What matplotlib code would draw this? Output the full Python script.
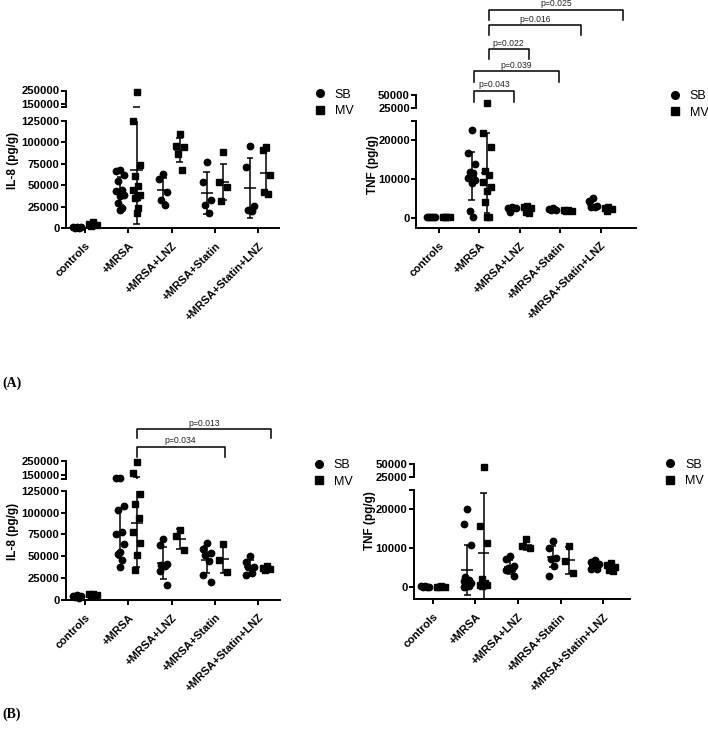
#IL-8 and TNF in SB / MV, two experiments (A) and (B), GraphPad style with broken y axis

import numpy as np
import matplotlib
matplotlib.use('Agg')
import matplotlib.pyplot as plt
from matplotlib.lines import Line2D
from matplotlib.transforms import blended_transform_factory

#(1)Data
groups = ['controls', '+MRSA', '+MRSA+LNZ', '+MRSA+Statin', '+MRSA+Statin+LNZ']
series = ['SB', 'MV']

# (A) IL-8 (pg/g)
il8_a_sb = [
    [1000, 500, 1500, 800, 300],
    [67000, 66000, 62000, 54700, 44200, 43100, 38400, 37300, 28700, 22900, 21000],
    [63000, 57000, 42000, 33000, 27000],
    [76600, 53400, 32900, 26300, 17400],
    [96000, 71600, 25200, 21300, 19400],
]
il8_a_mv = [
    [7500, 5000, 3500, 2500],
    [240000, 125000, 73000, 60000, 49000, 44000, 38500, 36500, 34500, 23000, 18000],
    [109500, 96000, 94000, 86000, 67500],
    [88000, 54000, 48000, 31000],
    [94000, 91000, 62000, 42000, 40000],
]
il8_a_sb_mean = [800, 43300, 44200, 40600, 46400]
il8_a_sb_sd = [500, 16500, 14300, 24200, 35200]
il8_a_mv_mean = [4600, 67500, 90800, 53400, 64600]
il8_a_mv_sd = [2100, 62500, 13600, 20900, 25500]

# (A) TNF (pg/g)
tnf_a_sb = [
    [200, 100, 300, 150, 250],
    [22700, 16800, 13900, 11900, 11500, 10200, 9700, 8900, 1800, 300],
    [2900, 2600, 2400, 1500],
    [2600, 2300, 2100, 1900],
    [5200, 4400, 3000, 2800, 2700],
]
tnf_a_mv = [
    [100, 200, 150, 250],
    [35000, 21800, 18200, 12100, 11000, 9100, 8000, 6900, 4000, 150, 150],
    [3100, 2800, 2500, 1500, 1300],
    [2100, 1900, 1800, 1700],
    [2900, 2600, 2300, 1800],
]
tnf_a_sb_mean = [200, 10800, 2350, 2200, 3300]
tnf_a_sb_sd = [100, 6200, 600, 300, 1100]
tnf_a_mv_mean = [150, 11500, 2200, 1900, 2400]
tnf_a_mv_sd = [60, 10300, 800, 200, 500]
tnf_a_pvals = ['p=0.043', 'p=0.039', 'p=0.022', 'p=0.016', 'p=0.025']

# (B) IL-8 (pg/g)
il8_b_sb = [
    [5000, 4000, 3000, 2000, 4500],
    [135000, 135000, 108000, 103000, 78000, 76000, 64000, 55000, 52000, 46000, 38000],
    [70000, 62500, 41000, 40000, 38500, 33000, 16500],
    [65000, 58000, 53000, 51000, 44000, 28000, 20000],
    [50000, 43500, 38000, 37000, 31000, 28000],
]
il8_b_mv = [
    [6000, 5500, 5000, 6200],
    [239000, 164000, 121500, 110000, 93500, 77300, 64600, 51000, 33800],
    [80000, 73000, 57000],
    [64000, 45000, 32000],
    [38500, 36500, 35000, 34000],
]
il8_b_sb_mean = [3700, 77000, 42000, 46000, 37500]
il8_b_sb_sd = [1200, 28800, 18500, 16000, 8000]
il8_b_mv_mean = [5700, 88000, 70000, 47000, 36000]
il8_b_mv_sd = [500, 50000, 11700, 16000, 2000]
il8_b_pvals = ['p=0.034', 'p=0.013']

# (B) TNF (pg/g)
tnf_b_sb = [
    [200, 100, 300, 150, 250],
    [20000, 16200, 10800, 2600, 2000, 1500, 1100, 800, 600, 400, 300, 200],
    [8000, 7200, 5500, 5000, 4800, 4500, 3000],
    [12000, 10200, 7600, 7300, 5600, 3000],
    [6900, 6500, 6000, 5600, 4800, 4600],
]
tnf_b_mv = [
    [100, 200, 150, 250],
    [45000, 15800, 11500, 2200, 1000, 700, 600, 500, 400],
    [12500, 10500, 10200],
    [10500, 6800, 3600],
    [6200, 5800, 5300, 4500, 4200],
]
tnf_b_sb_mean = [200, 4500, 5200, 7800, 5600]
tnf_b_sb_sd = [100, 6500, 1700, 2700, 900]
tnf_b_mv_mean = [150, 8800, 11000, 6900, 5200]
tnf_b_mv_sd = [60, 15500, 1300, 3500, 800]

#(2)Figure setup (work in pixels of the 708x732 picture)
plt.rcParams['font.family'] = ['Liberation Sans', 'DejaVu Sans']
plt.rcParams['font.weight'] = 'bold'
W, H = 708, 732
fig = plt.figure(figsize=(W / 100, H / 100), dpi=100)

def rect(l, t, r, b):                                   #pixel box -> figure fraction
    return [l / W, 1 - b / H, (r - l) / W, (b - t) / H]

LW = 1.4          # spine width
EW = 1.1          # error bar / mean line width
OFF = 0.19        # SB / MV offset from the group tick
MS = 4.6
jitter = np.array([0, -1, 1, -0.5, 0.5, -1, 1, 0, -0.5, 0.5, 0, -1]) * 0.09

def draw_errbar(ax_lo, ax_up, x, mean, sd, lo_lim, up_lim):
    top, bot = mean + sd, mean - sd
    kw = dict(color='black', lw=EW, clip_on=False, solid_capstyle='butt')
    ax_lo.plot([x, x], [max(bot, lo_lim[0]), min(top, lo_lim[1])], **kw)
    ax_lo.plot([x - 0.14, x + 0.14], [mean, mean], **kw)   #mean line
    if bot >= lo_lim[0]:
        ax_lo.plot([x - 0.08, x + 0.08], [bot, bot], **kw)
    if top <= lo_lim[1]:
        ax_lo.plot([x - 0.08, x + 0.08], [top, top], **kw)
    elif top > up_lim[0]:
        ax_up.plot([x, x], [up_lim[0], top], **kw)
        ax_up.plot([x - 0.08, x + 0.08], [top, top], **kw)

def draw_panel(left, right, lo_px, up_px, lo_lim, up_lim, xlim,
               lo_ticks, lo_labels, up_ticks, up_labels,
               sb, mv, sb_mean, sb_sd, mv_mean, mv_sd):
    ax = fig.add_axes(rect(left, lo_px[0], right, lo_px[1]))
    ax2 = fig.add_axes(rect(left, up_px[0], right, up_px[1]))
    ax.set_xlim(xlim)
    ax2.set_xlim(xlim)
    ax.set_ylim(lo_lim)
    ax2.set_ylim(up_lim)
    for a in (ax, ax2):
        a.patch.set_alpha(0)
        a.spines['top'].set_visible(False)
        a.spines['right'].set_visible(False)
        a.spines['left'].set_linewidth(LW)
        a.tick_params(axis='y', length=3.6, width=LW, pad=0.8, labelsize=8.1)
    ax.spines['bottom'].set_linewidth(LW)
    ax2.spines['bottom'].set_visible(False)
    ax2.set_xticks([])
    ax.set_xticks(range(len(groups)))
    ax.set_xticklabels(groups, rotation=45, ha='right', va='top',
                       rotation_mode='anchor', fontsize=8)
    ax.tick_params(axis='x', length=3.6, width=LW, pad=5.5)
    ax.set_yticks(lo_ticks)
    ax.set_yticklabels(lo_labels)
    ax2.set_yticks(up_ticks)
    ax2.set_yticklabels(up_labels)

    for k, (data, means, sds, mk) in enumerate([(sb, sb_mean, sb_sd, 'o'),
                                                (mv, mv_mean, mv_sd, 's')]):
        for g in range(len(groups)):
            xc = g - OFF if k == 0 else g + OFF
            vals = np.sort(np.array(data[g], dtype=float))[::-1]
            xs = xc + jitter[:len(vals)]
            low = vals <= lo_lim[1]
            ax.plot(xs[low], vals[low], mk, color='black', ms=MS, clip_on=False)
            ax2.plot(xs[~low], vals[~low], mk, color='black', ms=MS, clip_on=False)
            draw_errbar(ax, ax2, xc, means[g], sds[g], lo_lim, up_lim)
    return ax, ax2

def legend_at(x, y):
    h = [Line2D([], [], ls='', marker='o', color='black', ms=5.5),
         Line2D([], [], ls='', marker='s', color='black', ms=5.2)]
    fig.legend(h, series, loc='center left', bbox_to_anchor=(x / W, 1 - y / H),
               frameon=False, handlelength=1.0, handletextpad=0.7, labelspacing=0.35,
               borderpad=0, borderaxespad=0, handleheight=0.7,
               prop={'family': 'Liberation Sans', 'weight': 'normal', 'size': 9})

def bracket(ax, x1, x2, y, drop, label):
    tr = blended_transform_factory(ax.transData, fig.transFigure)
    ax.plot([x1, x1, x2, x2], [1 - (y + drop) / H, 1 - y / H, 1 - y / H, 1 - (y + drop) / H],
            color='black', lw=1.1, transform=tr, clip_on=False)
    ax.text((x1 + x2) / 2, 1 - (y - 3.5) / H, label, transform=tr, ha='center',
            va='baseline', fontsize=6.2, fontweight='normal', color='#222222')

il8_lo_ticks = [0, 25000, 50000, 75000, 100000, 125000]
il8_lo_labels = [str(t) for t in il8_lo_ticks]
il8_up_ticks = [125000, 150000, 250000]
il8_up_labels = ['', '150000', '250000']
tnf_lo_ticks = [0, 10000, 20000, 25000]
tnf_lo_labels = ['0', '10000', '20000', '']
tnf_up_ticks = [25000, 50000]
tnf_up_labels = ['25000', '50000']

#(3)Panel A
draw_panel(65.5, 279, (120.7, 228), (90.5, 107.4), (0, 125000), (125000, 250000),
           (-0.45, 4.48), il8_lo_ticks, il8_lo_labels, il8_up_ticks, il8_up_labels,
           il8_a_sb, il8_a_mv, il8_a_sb_mean, il8_a_sb_sd, il8_a_mv_mean, il8_a_mv_sd)
fig.text(13 / W, 1 - 160 / H, 'IL-8 (pg/g)', rotation=90, ha='center', va='center', fontsize=8.5)
legend_at(313.5, 103)

ax_t, _ = draw_panel(416, 636, (120.7, 227.5), (95.3, 108), (-2500, 25000), (25000, 50000),
                     (-0.56, 4.87), tnf_lo_ticks, tnf_lo_labels, tnf_up_ticks, tnf_up_labels,
                     tnf_a_sb, tnf_a_mv, tnf_a_sb_mean, tnf_a_sb_sd, tnf_a_mv_mean, tnf_a_mv_sd)
fig.text(373 / W, 1 - 165 / H, 'TNF (pg/g)', rotation=90, ha='center', va='center', fontsize=8.5)
legend_at(668.5, 104.5)
bracket(ax_t, 0.87, 1.87, 90.7, 11, tnf_a_pvals[0])
bracket(ax_t, 0.87, 2.97, 71.3, 10.5, tnf_a_pvals[1])
bracket(ax_t, 1.23, 2.23, 49, 9.5, tnf_a_pvals[2])
bracket(ax_t, 1.23, 3.51, 25, 10, tnf_a_pvals[3])
bracket(ax_t, 1.23, 4.56, 10, 9.5, tnf_a_pvals[4])

#(4)Panel B
ax_b, _ = draw_panel(65.5, 280, (491, 599.5), (460.7, 479), (0, 125000), (125000, 250000),
                     (-0.45, 4.5), il8_lo_ticks, il8_lo_labels, il8_up_ticks, il8_up_labels,
                     il8_b_sb, il8_b_mv, il8_b_sb_mean, il8_b_sb_sd, il8_b_mv_mean, il8_b_mv_sd)
fig.text(13 / W, 1 - 531 / H, 'IL-8 (pg/g)', rotation=90, ha='center', va='center', fontsize=8.5)
legend_at(312.5, 473.5)
bracket(ax_b, 1.19, 3.22, 446.7, 10, il8_b_pvals[0])
bracket(ax_b, 1.19, 4.29, 429.3, 9, il8_b_pvals[1])

draw_panel(413.7, 630, (490, 599), (464, 477.3), (-3000, 25000), (25000, 50000),
           (-0.45, 4.63), tnf_lo_ticks, tnf_lo_labels, tnf_up_ticks, tnf_up_labels,
           tnf_b_sb, tnf_b_mv, tnf_b_sb_mean, tnf_b_sb_sd, tnf_b_mv_mean, tnf_b_mv_sd)
fig.text(370 / W, 1 - 521 / H, 'TNF (pg/g)', rotation=90, ha='center', va='center', fontsize=8.5)
legend_at(664, 473)

#(5)Panel letters
fig.text(2 / W, 1 - 383 / H, '(A)', ha='left', va='center', fontsize=10,
         family='Liberation Serif', fontweight='bold')
fig.text(2 / W, 1 - 714 / H, '(B)', ha='left', va='center', fontsize=10,
         family='Liberation Serif', fontweight='bold')

fig.savefig('out.png', dpi=100)
